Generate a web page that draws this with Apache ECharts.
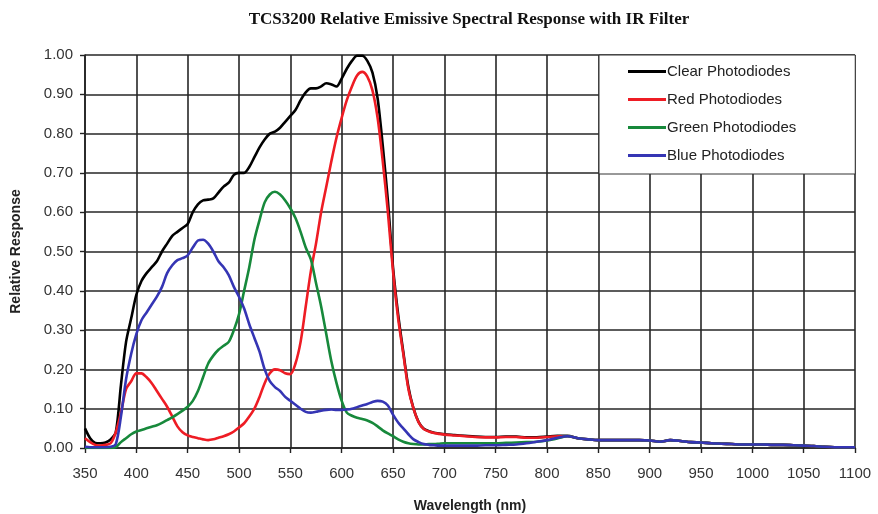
<!DOCTYPE html>
<html>
<head>
<meta charset="utf-8">
<title>TCS3200 Relative Emissive Spectral Response</title>
<script src="https://cdn.jsdelivr.net/npm/echarts@6/dist/echarts.min.js"></script>
<style>
  html, body { margin: 0; padding: 0; background: #fff; }
  #main { width: 878px; height: 514px; }
</style>
</head>
<body>
<div id="main"></div>
<script>
// wavelength (nm), 5 nm steps up to 700, then 10 nm steps
const wavelengths = [
  350, 355, 360, 365, 370, 375, 380, 385, 390, 395,
  400, 405, 410, 415, 420, 425, 430, 435, 440, 445,
  450, 455, 460, 465, 470, 475, 480, 485, 490, 495,
  500, 505, 510, 515, 520, 525, 530, 535, 540, 545,
  550, 555, 560, 565, 570, 575, 580, 585, 590, 595,
  600, 605, 610, 615, 620, 625, 630, 635, 640, 645,
  650, 655, 660, 665, 670, 675, 680, 685, 690, 695,
  700,
  710, 720, 730, 740, 750, 760, 770, 780, 790, 800,
  810, 820, 830, 840, 850, 860, 870, 880, 890, 900,
  910, 920, 930, 940, 950, 960, 970, 980, 990, 1000,
  1010, 1020, 1030, 1040, 1050, 1060, 1070, 1080, 1090, 1100
];

const clearResp = [
  0.05, 0.025, 0.013, 0.012, 0.014, 0.022, 0.04, 0.16, 0.27, 0.33,
  0.39, 0.425, 0.445, 0.46, 0.475, 0.50, 0.52, 0.54, 0.55, 0.56,
  0.57, 0.60, 0.62, 0.63, 0.632, 0.635, 0.65, 0.665, 0.675, 0.695,
  0.70, 0.70, 0.715, 0.74, 0.765, 0.785, 0.80, 0.805, 0.815, 0.83,
  0.845, 0.86, 0.885, 0.905, 0.915, 0.915, 0.92, 0.928, 0.925, 0.92,
  0.94, 0.965, 0.985, 0.998, 0.998, 0.985, 0.955, 0.89, 0.77, 0.63,
  0.46, 0.34, 0.245, 0.155, 0.10, 0.066, 0.049, 0.043, 0.039, 0.037,
  0.035,
  0.033, 0.031, 0.029, 0.028, 0.028, 0.029, 0.029, 0.027, 0.027, 0.029,
  0.031, 0.031, 0.025, 0.022, 0.02, 0.02, 0.02, 0.02, 0.02, 0.019,
  0.016, 0.02, 0.018, 0.015, 0.014, 0.012, 0.011, 0.01, 0.009, 0.009,
  0.009, 0.008, 0.008, 0.007, 0.006, 0.005, 0.003, 0.002, 0.002, 0.002
];

const redResp = [
  0.025, 0.015, 0.008, 0.006, 0.008, 0.012, 0.04, 0.09, 0.15, 0.17,
  0.19, 0.19, 0.18, 0.165, 0.145, 0.125, 0.105, 0.08, 0.055, 0.04,
  0.032, 0.028, 0.025, 0.022, 0.02, 0.022, 0.026, 0.03, 0.035, 0.042,
  0.052, 0.063, 0.08, 0.10, 0.13, 0.165, 0.19, 0.20, 0.198, 0.19,
  0.188, 0.215, 0.27, 0.36, 0.45, 0.52, 0.60, 0.665, 0.73, 0.79,
  0.84, 0.885, 0.92, 0.948, 0.957, 0.945, 0.91, 0.84, 0.73, 0.60,
  0.45, 0.33, 0.24, 0.15, 0.10, 0.065, 0.048, 0.042, 0.038, 0.036,
  0.034,
  0.032, 0.03, 0.028, 0.027, 0.027, 0.028, 0.028, 0.026, 0.026, 0.028,
  0.03, 0.03, 0.025, 0.022, 0.02, 0.02, 0.02, 0.02, 0.02, 0.019,
  0.016, 0.02, 0.018, 0.015, 0.014, 0.012, 0.011, 0.01, 0.009, 0.009,
  0.009, 0.008, 0.008, 0.007, 0.006, 0.005, 0.003, 0.002, 0.002, 0.002
];

const greenResp = [
  0, 0, 0, 0, 0, 0, 0.002, 0.015, 0.025, 0.035,
  0.042, 0.046, 0.05, 0.054, 0.058, 0.064, 0.071, 0.078, 0.086, 0.095,
  0.105, 0.12, 0.145, 0.18, 0.215, 0.235, 0.25, 0.26, 0.27, 0.30,
  0.34, 0.40, 0.46, 0.53, 0.58, 0.625, 0.645, 0.652, 0.645, 0.63,
  0.61, 0.585, 0.55, 0.51, 0.48, 0.42, 0.36, 0.29, 0.22, 0.165,
  0.12, 0.09, 0.082, 0.077, 0.074, 0.07, 0.064, 0.055, 0.045, 0.037,
  0.03, 0.022, 0.016, 0.012, 0.01, 0.009, 0.009, 0.01, 0.01, 0.011,
  0.012,
  0.012, 0.012, 0.012, 0.012, 0.012, 0.013, 0.014, 0.015, 0.016, 0.019,
  0.024, 0.03, 0.025, 0.022, 0.02, 0.02, 0.02, 0.02, 0.02, 0.019,
  0.016, 0.02, 0.018, 0.015, 0.014, 0.012, 0.011, 0.01, 0.009, 0.009,
  0.009, 0.008, 0.008, 0.007, 0.006, 0.005, 0.003, 0.002, 0.002, 0.002
];

const blueResp = [
  0.003, 0.002, 0.002, 0.002, 0.002, 0.003, 0.01, 0.08, 0.175, 0.24,
  0.29, 0.325, 0.345, 0.365, 0.385, 0.41, 0.445, 0.465, 0.478, 0.483,
  0.49, 0.51, 0.528, 0.53, 0.52, 0.50, 0.475, 0.46, 0.44, 0.41,
  0.385, 0.355, 0.315, 0.28, 0.245, 0.20, 0.17, 0.155, 0.145, 0.13,
  0.12, 0.11, 0.10, 0.092, 0.09, 0.092, 0.095, 0.097, 0.098, 0.097,
  0.097, 0.098, 0.10, 0.104, 0.108, 0.112, 0.117, 0.12, 0.118, 0.108,
  0.085, 0.065, 0.05, 0.035, 0.022, 0.015, 0.01, 0.008, 0.007, 0.006,
  0.006,
  0.006, 0.006, 0.006, 0.007, 0.007, 0.008, 0.009, 0.012, 0.016, 0.02,
  0.026, 0.03, 0.025, 0.022, 0.02, 0.02, 0.02, 0.02, 0.02, 0.019,
  0.016, 0.02, 0.018, 0.015, 0.014, 0.012, 0.011, 0.01, 0.009, 0.009,
  0.009, 0.008, 0.008, 0.007, 0.006, 0.005, 0.003, 0.002, 0.002, 0.002
];

const seriesNames = ['Clear Photodiodes', 'Red Photodiodes', 'Green Photodiodes', 'Blue Photodiodes'];
const seriesColors = ['#000000', '#ee1c24', '#17893b', '#3535b4'];
const seriesValues = [clearResp, redResp, greenResp, blueResp];

const chart = echarts.init(document.getElementById('main'));

const gridLine = { show: true, lineStyle: { color: '#262626', width: 1.6 } };
const labelFont = { fontFamily: 'Liberation Sans, Arial, sans-serif', fontSize: 15, color: '#333' };

const option = {
  backgroundColor: '#fff',
  animation: false,
  title: {
    text: 'TCS3200 Relative Emissive Spectral Response with IR Filter',
    left: 464,
    top: 6,
    textAlign: 'center',
    textStyle: { fontFamily: 'Liberation Serif, Times New Roman, serif', fontWeight: 'bold', fontSize: 17, color: '#111' }
  },
  // fixed plot box, no auto shrinking for labels
  grid: { left: 85, right: 23, top: 55, bottom: 66, outerBoundsMode: 'none' },
  legend: {
    orient: 'vertical',
    left: 599,
    top: 55,
    data: seriesNames,
    icon: 'rect',
    itemWidth: 38,
    itemHeight: 3,
    itemGap: 13,
    padding: [9, 59, 11, 29],
    backgroundColor: '#fff',
    borderColor: '#333',
    borderWidth: 1,
    borderRadius: 0,
    textStyle: { fontFamily: 'Liberation Sans, Arial, sans-serif', fontSize: 15, color: '#222', padding: [0, 0, 0, -4] }
  },
  xAxis: {
    type: 'value',
    min: 350,
    max: 1100,
    interval: 50,
    name: 'Wavelength (nm)',
    nameLocation: 'middle',
    nameGap: 51,
    nameTextStyle: { fontFamily: 'Liberation Sans, Arial, sans-serif', fontWeight: 'bold', fontSize: 14, color: '#222' },
    axisLine: { show: true, lineStyle: { color: '#222', width: 1.6 } },
    axisTick: { show: true, length: 5, lineStyle: { color: '#222', width: 1.4 } },
    axisLabel: Object.assign({ margin: 18, formatter: v => String(v) }, labelFont),
    splitLine: gridLine
  },
  yAxis: {
    type: 'value',
    min: 0,
    max: 1,
    interval: 0.1,
    name: 'Relative Response',
    nameLocation: 'middle',
    nameGap: 62,
    nameTextStyle: { fontFamily: 'Liberation Sans, Arial, sans-serif', fontWeight: 'bold', fontSize: 14, color: '#222' },
    axisLine: { show: true, lineStyle: { color: '#222', width: 1.6 } },
    axisTick: { show: true, length: 5, lineStyle: { color: '#222', width: 1.4 } },
    axisLabel: Object.assign({ margin: 12, formatter: v => v.toFixed(2) }, labelFont),
    splitLine: gridLine
  },
  series: seriesNames.map((name, k) => ({
    name: name,
    type: 'line',
    symbol: 'none',
    smooth: 0.3,
    data: wavelengths.map((w, i) => [w, seriesValues[k][i]]),
    lineStyle: { color: seriesColors[k], width: 2.6 },
    itemStyle: { color: seriesColors[k] },
    z: 2 + k
  }))
};

chart.setOption(option);
window.addEventListener('resize', function () {
  chart.resize();
});
</script>
</body>
</html>
